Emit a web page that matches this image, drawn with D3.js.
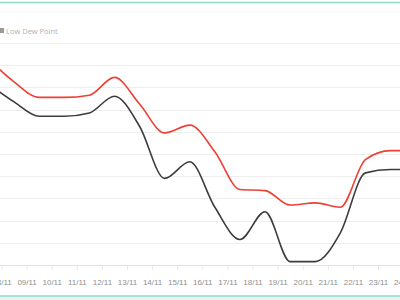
<!DOCTYPE html>
<html><head><meta charset="utf-8">
<script src="https://cdn.jsdelivr.net/npm/d3@7/dist/d3.min.js"></script>
<style>body{margin:0;background:#fff;}svg{display:block;font-family:"Open Sans",Lato,sans-serif;}</style>
</head><body>
<svg id="c" width="400" height="300"></svg>
<script>
const dates = ["07/11","08/11","09/11","10/11","11/11","12/11","13/11","14/11","15/11","16/11","17/11","18/11","19/11","20/11","21/11","22/11","23/11","24/11"];
const highDew = [18.5,16.5,15.1,15.1,15.3,16.9,14.5,11.9,12.6,10.2,6.8,6.7,5.4,5.6,5.2,9.5,10.3,10.3];
const lowDew  = [16.3,14.7,13.4,13.4,13.7,15.2,12.5,7.8,9.3,5.2,2.3,4.8,0.3,0.3,2.9,8.3,8.6,8.6];
const tickLabels = ["08/11","09/11","10/11","11/11","12/11","13/11","14/11","15/11","16/11","17/11","18/11","19/11","20/11","21/11","22/11","23/11","24/11"];
const yTicks = [0,2,4,6,8,10,12,14,16,18,20];

const parse = s => { const [d,m] = s.split("/").map(Number); return new Date(2020, m-1, d); };
const svg = d3.select("#c");

// frame
svg.append("line").attr("x1",0).attr("x2",400).attr("y1",2.5).attr("y2",2.5).attr("stroke","#8fd8c8").attr("stroke-width",1.5);
svg.append("line").attr("x1",0).attr("x2",400).attr("y1",11.5).attr("y2",11.5).attr("stroke","#f4f7f6");
svg.append("rect").attr("x",0).attr("y",296).attr("width",400).attr("height",4).attr("fill","#e6f6f1");
svg.append("line").attr("x1",0).attr("x2",400).attr("y1",296).attr("y2",296).attr("stroke","#8fd8c8").attr("stroke-width",1.5);

const x = d3.scaleTime().domain([parse("08/11"), parse("24/11")]).range([1.5, 403.1]);
const y = d3.scaleLinear().domain([0,20]).range([265,43]);

// grid
svg.append("g").selectAll("line").data(yTicks.slice(1)).join("line")
  .attr("x1",0).attr("x2",400).attr("y1",d=>Math.round(y(d))+0.5).attr("y2",d=>Math.round(y(d))+0.5)
  .attr("stroke","#eeeeee");

// x axis
const xAxis = d3.axisBottom(x)
  .tickValues(tickLabels.map(parse))
  .tickFormat(d3.timeFormat("%d/%m"))
  .tickSize(4).tickPadding(10);
const gx = svg.append("g").attr("transform","translate(0,265.5)").call(xAxis);
gx.select(".domain").attr("stroke","#e3e3ea").attr("d","M0,0H400");
gx.selectAll(".tick line").attr("stroke","#e3e3ea");
gx.selectAll(".tick text").attr("fill","#8f8f8f").attr("font-size","8px");

const noon = s => new Date(parse(s).getTime() + 12*3600*1000);
const clip = svg.append("clipPath").attr("id","cp").append("rect").attr("x",0).attr("y",0).attr("width",400).attr("height",300);
const line = vals => d3.line().x((d,i)=>x(noon(dates[i]))).y(d=>y(d)).curve(d3.curveMonotoneX)(vals);

svg.append("path").attr("d", line(lowDew)).attr("fill","none").attr("stroke","#3d3d3d").attr("stroke-width",1.6).attr("clip-path","url(#cp)");
svg.append("path").attr("d", line(highDew)).attr("fill","none").attr("stroke","#ee3f34").attr("stroke-width",1.6).attr("clip-path","url(#cp)");

// legend
const lg = svg.append("g");
lg.append("rect").attr("x",0).attr("y",28).attr("width",4).attr("height",5).attr("fill","#9a9a9a");
lg.append("text").attr("x",6).attr("y",33.5).attr("font-size","7.5px").attr("fill","#b0b0b0").text("Low Dew Point");
</script>
</body></html>
